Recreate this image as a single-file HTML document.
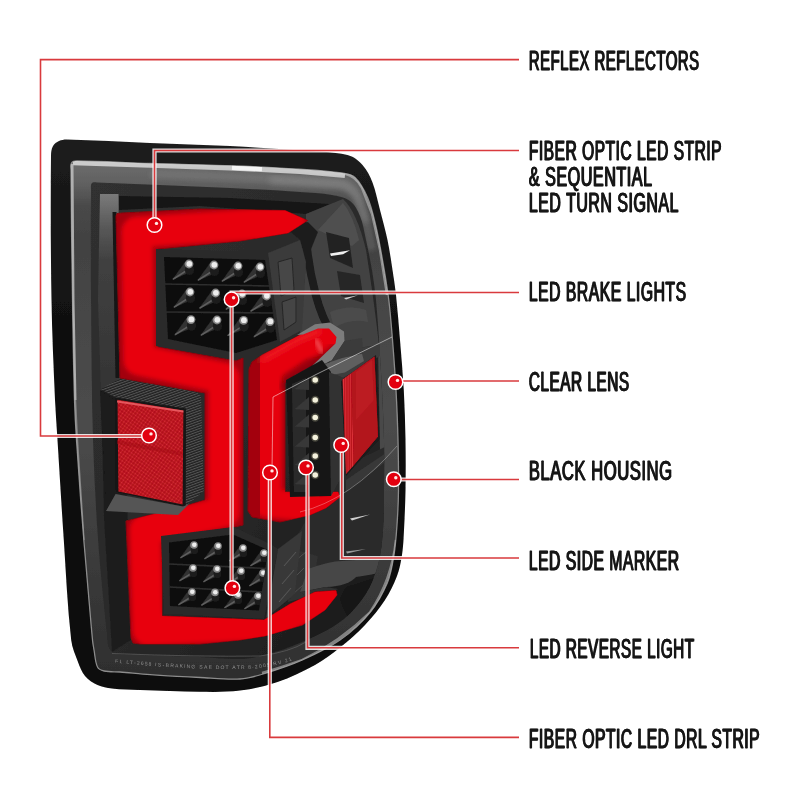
<!DOCTYPE html>
<html><head><meta charset="utf-8"><title>Tail light features</title>
<style>
html,body{margin:0;padding:0;background:#fff;}
body{width:800px;height:800px;overflow:hidden;font-family:"Liberation Sans",sans-serif;}
svg{display:block}
.lbl text{font-family:"Liberation Sans",sans-serif;font-weight:normal;font-size:27.4px;fill:#161616;stroke:#161616;stroke-width:0.3px;letter-spacing:0.9px;}
</style></head><body>
<svg width="800" height="800" viewBox="0 0 800 800">
<defs>
<filter id="soft" x="-5%" y="-5%" width="110%" height="110%"><feGaussianBlur stdDeviation="0.75"/></filter>
<filter id="b3" x="-10%" y="-10%" width="120%" height="120%"><feGaussianBlur stdDeviation="3.2"/></filter>
<filter id="b2" x="-10%" y="-10%" width="120%" height="120%"><feGaussianBlur stdDeviation="2.2"/></filter>
<filter id="tb" x="-2%" y="-20%" width="104%" height="140%"><feGaussianBlur stdDeviation="0.35"/></filter>
<filter id="b6" x="-10%" y="-10%" width="120%" height="120%"><feGaussianBlur stdDeviation="6"/></filter>
<clipPath id="cS"><path d="M116,216 L117,213.5 L122,213 L200,209 L285,210.5 L307.5,220.5 L288,233 L240,241 L158,249 L158,347 L236,361 L243,358 L243,525 L235,527 L162,537 L162,616 L264,620 L290,604 L315,592 L336,590.5 L337,595 L325,610 L302.5,625 L265,636 L240,640 L200,644 L140,644 L133,643 L131,638 L126,521 L182,507 L205,500 L205,393 L120,378 Z"/></clipPath>
<clipPath id="cR"><path d="M249,369 L252,362 L262,355 L300,335 L318,327 L330,326 L337,336 L338,350 L325,357 L285,383 L285,492 L338,492 L340,497 L326,508 L310,515 L280,522 L252,517 L248,511 Z"/></clipPath>
<clipPath id="cLow"><path d="M169,542.5 L233,534.5 L268,550 L259,610.5 L170,606 Z"/></clipPath>
<clipPath id="cLens"><path d="M71.0,170.0 C71.0,167.7 70.2,164.9 71.5,163.0 C72.6,161.4 75.0,161.0 77.0,161.0 C101.3,161.2 125.7,162.8 150.0,163.5 C176.7,164.3 203.3,164.7 230.0,165.7 C253.3,166.6 276.7,167.7 300.0,169.2 C314.0,170.1 328.1,170.9 342.0,173.0 C346.5,173.7 351.7,174.3 355.0,177.5 C360.7,182.9 364.3,190.3 367.5,197.5 C371.0,205.5 373.0,214.0 375.0,222.5 C378.0,234.9 380.3,247.4 382.5,260.0 C384.9,273.3 387.1,286.6 388.8,300.0 C390.4,313.3 391.4,326.7 392.5,340.0 C393.8,356.7 395.1,373.3 396.0,390.0 C396.9,406.7 397.6,423.3 398.0,440.0 C398.4,456.7 398.7,473.3 398.5,490.0 C398.4,501.7 397.8,513.4 397.0,525.0 C396.3,535.0 395.6,545.1 394.0,555.0 C392.5,564.3 391.1,573.8 387.5,582.5 C383.0,593.2 377.4,603.6 370.0,612.5 C361.4,623.0 351.1,632.2 340.0,640.0 C328.4,648.2 315.4,654.2 302.5,660.0 C290.4,665.4 277.7,669.6 265.0,673.5 C256.8,676.0 248.5,678.5 240.0,679.0 C226.7,679.8 213.3,678.2 200.0,677.5 C183.3,676.7 166.7,675.7 150.0,674.6 C140.0,673.9 130.0,672.8 120.0,672.0 C114.7,671.6 109.2,672.2 104.0,671.0 C101.5,670.4 98.6,669.3 97.5,667.0 C95.0,661.8 95.1,655.7 94.0,650.0 C93.4,646.7 92.8,643.4 92.5,640.0 C89.4,606.7 86.4,573.4 83.8,540.0 C81.1,506.7 78.7,473.3 76.5,440.0 C75.6,426.7 74.9,413.3 74.5,400.0 C73.5,366.7 73.0,333.3 72.5,300.0 C71.8,256.7 71.3,213.3 71.0,170.0 Z"/></clipPath>
<clipPath id="cCav"><path d="M91.0,190.0 C91.0,187.6 90.5,184.8 92.0,183.0 C93.0,181.7 95.3,182.5 97.0,182.5 C118.0,183.1 139.0,184.1 160.0,185.0 C183.3,186.0 206.7,186.8 230.0,188.0 C253.3,189.2 276.7,190.4 300.0,192.0 C310.7,192.7 321.5,193.1 332.0,195.0 C338.2,196.1 344.9,197.2 350.0,201.0 C354.8,204.6 357.7,210.4 360.0,216.0 C363.1,223.6 364.2,232.0 366.0,240.0 C368.2,250.0 370.3,259.9 372.0,270.0 C373.7,280.0 375.0,290.0 376.0,300.0 C377.3,313.3 378.1,326.7 379.0,340.0 C380.1,356.7 381.2,373.3 382.0,390.0 C382.8,406.7 383.7,423.3 384.0,440.0 C384.3,456.7 384.2,473.3 384.0,490.0 C383.9,503.3 384.1,516.7 383.0,530.0 C382.1,541.7 381.1,553.6 378.0,565.0 C375.1,575.5 371.0,585.9 365.0,595.0 C358.2,605.2 349.9,614.7 340.0,622.0 C327.9,630.9 313.8,636.9 300.0,643.0 C288.7,648.0 276.9,651.8 265.0,655.0 C256.8,657.2 248.4,658.7 240.0,659.0 C226.7,659.4 213.3,657.5 200.0,657.0 C180.0,656.2 160.0,655.7 140.0,655.0 C132.0,654.7 123.8,655.8 116.0,654.0 C113.0,653.3 110.4,650.7 109.0,648.0 C107.2,644.4 107.4,640.0 107.0,636.0 C103.7,604.0 100.3,572.1 98.0,540.0 C95.6,506.7 94.0,473.4 93.0,440.0 C91.6,393.3 91.4,346.7 91.0,300.0 C90.7,263.3 90.7,226.7 91.0,190.0 Z"/></clipPath>
<linearGradient id="hous" x1="0" y1="0" x2="0" y2="1">
 <stop offset="0" stop-color="#1c1c1c"/><stop offset="0.35" stop-color="#101010"/><stop offset="1" stop-color="#070707"/>
</linearGradient>
<linearGradient id="lwall" x1="0" y1="0" x2="0" y2="1">
 <stop offset="0" stop-color="#7a7a7a"/><stop offset="0.16" stop-color="#5a5a5a"/><stop offset="0.34" stop-color="#404040"/><stop offset="1" stop-color="#343434"/>
</linearGradient>
<linearGradient id="frost" x1="0" y1="0" x2="0" y2="1">
 <stop offset="0" stop-color="#6c6c6c"/><stop offset="0.04" stop-color="#626262"/><stop offset="0.09" stop-color="#484848"/><stop offset="0.15" stop-color="#424242"/><stop offset="0.5" stop-color="#4c4c4c"/><stop offset="0.75" stop-color="#3c3c3c"/><stop offset="1" stop-color="#2e2e2e"/>
</linearGradient>
<linearGradient id="cav" x1="0" y1="0" x2="1" y2="1">
 <stop offset="0" stop-color="#303030"/><stop offset="0.5" stop-color="#2a2a2a"/><stop offset="1" stop-color="#181818"/>
</linearGradient>
<pattern id="mesh" width="3" height="3" patternUnits="userSpaceOnUse" patternTransform="rotate(35)">
 <rect width="3" height="3" fill="#b00e17"/><circle cx="1.5" cy="1.5" r="0.95" fill="#d8303a"/>
</pattern>
<pattern id="carbon" width="2.4" height="2.4" patternUnits="userSpaceOnUse" patternTransform="rotate(-20)">
 <rect width="2.4" height="2.4" fill="#202020"/><rect width="2.4" height="1.05" fill="#555555"/>
</pattern>
<pattern id="vstripe" width="2.2" height="4" patternUnits="userSpaceOnUse">
 <rect width="2.2" height="4" fill="#b8111a"/><rect width="0.9" height="4" fill="#e0373e"/>
</pattern>
</defs>
<rect width="800" height="800" fill="#ffffff"/>

<g filter="url(#soft)">
<!-- outer housing -->
<path d="M51.0,156.0 C51.0,152.6 51.4,149.0 53.0,146.0 C54.2,143.7 56.6,142.1 59.0,141.0 C61.5,139.9 64.3,139.4 67.0,139.5 C94.7,140.1 122.3,141.9 150.0,143.0 C176.7,144.1 203.3,144.7 230.0,146.0 C253.4,147.2 276.7,148.7 300.0,150.5 C315.9,151.7 332.0,151.4 347.5,155.0 C353.4,156.4 358.5,160.6 362.5,165.0 C367.0,170.0 370.1,176.2 372.5,182.5 C375.9,191.4 377.6,200.8 380.0,210.0 C382.6,220.0 385.4,229.9 387.5,240.0 C389.6,249.9 391.0,260.0 392.5,270.0 C393.8,278.3 395.1,286.6 396.0,295.0 C397.6,310.0 398.8,325.0 400.0,340.0 C401.4,356.7 402.8,373.3 403.8,390.0 C404.7,406.7 405.2,423.3 405.5,440.0 C405.8,456.7 405.8,473.3 405.5,490.0 C405.3,503.3 404.7,516.7 404.0,530.0 C403.6,538.3 403.3,546.7 402.0,555.0 C400.9,562.1 399.5,569.3 397.0,576.0 C393.8,584.4 389.9,592.5 385.0,600.0 C379.2,608.9 372.3,617.3 365.0,625.0 C357.3,633.1 348.8,640.5 340.0,647.5 C332.1,653.9 323.9,660.1 315.0,665.0 C303.0,671.6 290.5,677.6 277.5,682.0 C265.4,686.1 252.7,688.9 240.0,690.5 C226.8,692.2 213.3,691.9 200.0,691.8 C180.0,691.7 160.0,690.7 140.0,690.0 C130.7,689.6 121.3,689.6 112.0,688.5 C107.1,687.9 102.0,687.1 97.5,685.0 C92.8,682.8 88.3,679.9 85.0,676.0 C81.6,672.0 79.9,666.9 78.0,662.0 C75.3,654.8 72.1,647.6 71.2,640.0 C67.4,606.8 66.0,573.3 63.8,540.0 C61.5,506.7 59.6,473.3 57.5,440.0 C56.7,426.7 55.6,413.3 55.0,400.0 C53.6,366.7 52.0,333.3 51.5,300.0 C50.7,252.0 50.5,204.0 51.0,156.0 Z" fill="url(#hous)"/>
<!-- lens (frosted band) -->
<path d="M71.0,170.0 C71.0,167.7 70.2,164.9 71.5,163.0 C72.6,161.4 75.0,161.0 77.0,161.0 C101.3,161.2 125.7,162.8 150.0,163.5 C176.7,164.3 203.3,164.7 230.0,165.7 C253.3,166.6 276.7,167.7 300.0,169.2 C314.0,170.1 328.1,170.9 342.0,173.0 C346.5,173.7 351.7,174.3 355.0,177.5 C360.7,182.9 364.3,190.3 367.5,197.5 C371.0,205.5 373.0,214.0 375.0,222.5 C378.0,234.9 380.3,247.4 382.5,260.0 C384.9,273.3 387.1,286.6 388.8,300.0 C390.4,313.3 391.4,326.7 392.5,340.0 C393.8,356.7 395.1,373.3 396.0,390.0 C396.9,406.7 397.6,423.3 398.0,440.0 C398.4,456.7 398.7,473.3 398.5,490.0 C398.4,501.7 397.8,513.4 397.0,525.0 C396.3,535.0 395.6,545.1 394.0,555.0 C392.5,564.3 391.1,573.8 387.5,582.5 C383.0,593.2 377.4,603.6 370.0,612.5 C361.4,623.0 351.1,632.2 340.0,640.0 C328.4,648.2 315.4,654.2 302.5,660.0 C290.4,665.4 277.7,669.6 265.0,673.5 C256.8,676.0 248.5,678.5 240.0,679.0 C226.7,679.8 213.3,678.2 200.0,677.5 C183.3,676.7 166.7,675.7 150.0,674.6 C140.0,673.9 130.0,672.8 120.0,672.0 C114.7,671.6 109.2,672.2 104.0,671.0 C101.5,670.4 98.6,669.3 97.5,667.0 C95.0,661.8 95.1,655.7 94.0,650.0 C93.4,646.7 92.8,643.4 92.5,640.0 C89.4,606.7 86.4,573.4 83.8,540.0 C81.1,506.7 78.7,473.3 76.5,440.0 C75.6,426.7 74.9,413.3 74.5,400.0 C73.5,366.7 73.0,333.3 72.5,300.0 C71.8,256.7 71.3,213.3 71.0,170.0 Z" fill="url(#frost)" stroke="#8c8c8c" stroke-width="1.3"/>
<g clip-path="url(#cLens)">
 <!-- bright highlight band along lens top -->
 <path d="M73,162.2 L150,164.8 L230,167.4 L300,171 L345,175" fill="none" stroke="#dcdcdc" stroke-width="6" opacity="0.85"/>
 <path d="M232,167.5 L262,168.8" fill="none" stroke="#ffffff" stroke-width="5" opacity="0.8"/>
 <path d="M72,164 L73,300 L75,400" fill="none" stroke="#c4c4c4" stroke-width="3" opacity="0.8"/>
 <path d="M75,400 L77,440 L83.5,540" fill="none" stroke="#aaaaaa" stroke-width="2.4" opacity="0.6"/>
 <path d="M345,173.8 Q356,176 362,188 L372,214 L380,250 L387,295" fill="none" stroke="#cfcfcf" stroke-width="2.4" opacity="0.55"/>
 <path d="M396,540 Q392,580 370,612.5 Q340,642 302.5,660 Q280,668 262,673" fill="none" stroke="#b8b8b8" stroke-width="2.6" opacity="0.6"/>
 <path d="M150,174 L230,177 L290,180 L340,184 Q352,186 358,198 L366,222 L372,250" fill="none" stroke="#8c8c8c" stroke-width="9" opacity="0.3" filter="url(#b2)"/>
 <path d="M270,180 L340,184 Q352,186 358,198 L366,222" fill="none" stroke="#959595" stroke-width="9" opacity="0.4" filter="url(#b3)"/>
 <!-- right/bottom outer band a bit darker -->
 <path d="M71.0,170.0 C71.0,167.7 70.2,164.9 71.5,163.0 C72.6,161.4 75.0,161.0 77.0,161.0 C101.3,161.2 125.7,162.8 150.0,163.5 C176.7,164.3 203.3,164.7 230.0,165.7 C253.3,166.6 276.7,167.7 300.0,169.2 C314.0,170.1 328.1,170.9 342.0,173.0 C346.5,173.7 351.7,174.3 355.0,177.5 C360.7,182.9 364.3,190.3 367.5,197.5 C371.0,205.5 373.0,214.0 375.0,222.5 C378.0,234.9 380.3,247.4 382.5,260.0 C384.9,273.3 387.1,286.6 388.8,300.0 C390.4,313.3 391.4,326.7 392.5,340.0 C393.8,356.7 395.1,373.3 396.0,390.0 C396.9,406.7 397.6,423.3 398.0,440.0 C398.4,456.7 398.7,473.3 398.5,490.0 C398.4,501.7 397.8,513.4 397.0,525.0 C396.3,535.0 395.6,545.1 394.0,555.0 C392.5,564.3 391.1,573.8 387.5,582.5 C383.0,593.2 377.4,603.6 370.0,612.5 C361.4,623.0 351.1,632.2 340.0,640.0 C328.4,648.2 315.4,654.2 302.5,660.0 C290.4,665.4 277.7,669.6 265.0,673.5 C256.8,676.0 248.5,678.5 240.0,679.0 C226.7,679.8 213.3,678.2 200.0,677.5 C183.3,676.7 166.7,675.7 150.0,674.6 C140.0,673.9 130.0,672.8 120.0,672.0 C114.7,671.6 109.2,672.2 104.0,671.0 C101.5,670.4 98.6,669.3 97.5,667.0 C95.0,661.8 95.1,655.7 94.0,650.0 C93.4,646.7 92.8,643.4 92.5,640.0 C89.4,606.7 86.4,573.4 83.8,540.0 C81.1,506.7 78.7,473.3 76.5,440.0 C75.6,426.7 74.9,413.3 74.5,400.0 C73.5,366.7 73.0,333.3 72.5,300.0 C71.8,256.7 71.3,213.3 71.0,170.0 Z" fill="none" stroke="#1b1b1b" stroke-width="5" opacity="0.0"/>
</g>
<!-- inner cavity -->
<path d="M91.0,190.0 C91.0,187.6 90.5,184.8 92.0,183.0 C93.0,181.7 95.3,182.5 97.0,182.5 C118.0,183.1 139.0,184.1 160.0,185.0 C183.3,186.0 206.7,186.8 230.0,188.0 C253.3,189.2 276.7,190.4 300.0,192.0 C310.7,192.7 321.5,193.1 332.0,195.0 C338.2,196.1 344.9,197.2 350.0,201.0 C354.8,204.6 357.7,210.4 360.0,216.0 C363.1,223.6 364.2,232.0 366.0,240.0 C368.2,250.0 370.3,259.9 372.0,270.0 C373.7,280.0 375.0,290.0 376.0,300.0 C377.3,313.3 378.1,326.7 379.0,340.0 C380.1,356.7 381.2,373.3 382.0,390.0 C382.8,406.7 383.7,423.3 384.0,440.0 C384.3,456.7 384.2,473.3 384.0,490.0 C383.9,503.3 384.1,516.7 383.0,530.0 C382.1,541.7 381.1,553.6 378.0,565.0 C375.1,575.5 371.0,585.9 365.0,595.0 C358.2,605.2 349.9,614.7 340.0,622.0 C327.9,630.9 313.8,636.9 300.0,643.0 C288.7,648.0 276.9,651.8 265.0,655.0 C256.8,657.2 248.4,658.7 240.0,659.0 C226.7,659.4 213.3,657.5 200.0,657.0 C180.0,656.2 160.0,655.7 140.0,655.0 C132.0,654.7 123.8,655.8 116.0,654.0 C113.0,653.3 110.4,650.7 109.0,648.0 C107.2,644.4 107.4,640.0 107.0,636.0 C103.7,604.0 100.3,572.1 98.0,540.0 C95.6,506.7 94.0,473.4 93.0,440.0 C91.6,393.3 91.4,346.7 91.0,300.0 C90.7,263.3 90.7,226.7 91.0,190.0 Z" fill="url(#cav)"/>
<g clip-path="url(#cCav)">
<!-- left bezel wall lighter -->
<path d="M100,194 L118.5,194 L120,380 L101,391 L98,300 Z" fill="url(#lwall)"/>
<path d="M101,391 L120,380 L128,520 L131,640 L112,652 L104,520 Z" fill="#1f1f1f"/>
<path d="M114.5,212 L117.5,378" stroke="#161616" stroke-width="4" fill="none"/>
<!-- top band above red -->
<path d="M119,196 L230,198 L330,204 L306,214 L200,206 L119,210 Z" fill="#161616"/>
<!-- right upper bezel -->
<path d="M306,214 L343,199 Q357,212 366,250 Q374,300 379,345 L330,352 L300,334 L306,262 Z" fill="#424242"/>
<path d="M318,230 L343,203 Q353,215 359,240 L352,246 Z" fill="#505050"/>
<path d="M326,232 L349,238 L353,268 L330,258 Z" fill="#242424"/>
<path d="M330,253.6 L350,250.2 L343,254.2 L331,256 Z" fill="#f0f0f0"/>
<path d="M337,271 L360,275 L364,303 L341,296 Z" fill="#262626"/>
<path d="M344,298 L358,295.3 L346,299.6 Z" fill="#d0d0d0"/>
<path d="M305,226 Q307,262 316,296 Q322,318 332,334" fill="none" stroke="#1b1b1b" stroke-width="8" stroke-linecap="round"/>
<path d="M330,312 Q350,304 366,310 L368,322 Q350,318 334,328 Z" fill="#4c4c4c"/>
<path d="M288,230 L308,222 L318,232 L306,262 L300,240 Z" fill="#1f1f1f"/>
<path d="M378,345 L392,338 L397.5,440 L380,452 Z" fill="#484848"/>
<path d="M330,352 L379,345 L380,356 L343,378 L330,372 Z" fill="#3c3c3c"/>
<!-- lower right cavity -->
<path d="M335,470 L400,440 L400,560 L310,568 L290,548 Z" fill="#2b2b2b"/>
<path d="M346,480 L398,445 L398,452 L346,492 Z" fill="#383838"/>
<path d="M350,518.5 L370,514.5 L352,520.5 Z" fill="#cfcfcf"/>
<path d="M346,551.5 L366,549 L347,553.5 Z" fill="#9a9a9a"/>
<path d="M290,548 L318,556 L312,596 L288,602 Z" fill="#303030"/>
<path d="M296,560 L306,552 M294,578 L304,568 M293,594 L303,585" stroke="#505050" stroke-width="1" fill="none"/>
<!-- ridge gray above swoosh tip -->
<path d="M308,569 Q330,561 342,561 L400,557 L399,565 Q390,572 356,577 Q348,586 326,587 L300,592 Z" fill="#474747"/>
<path d="M346,587 Q370,580 392,572 Q388,592 372,606 Q362,616 352,622 Q342,610 340,598 Z" fill="#151515"/>
<path d="M300,592 L326,587 L338,589 L312,600 Z" fill="#303030"/>
</g>

<!-- RED S strip -->
<path d="M116,216 L117,213.5 L122,213 L200,209 L285,210.5 L307.5,220.5 L288,233 L240,241 L158,249 L158,347 L236,361 L243,358 L243,525 L235,527 L162,537 L162,616 L264,620 L290,604 L315,592 L336,590.5 L337,595 L325,610 L302.5,625 L265,636 L240,640 L200,644 L140,644 L133,643 L131,638 L126,521 L182,507 L205,500 L205,393 L120,378 Z" fill="#a3060e" stroke="#8a050b" stroke-width="1" stroke-linejoin="round"/>
<g clip-path="url(#cS)">
 <path d="M116,216 L117,213.5 L122,213 L200,209 L285,210.5 L307.5,220.5 L288,233 L240,241 L158,249 L158,347 L236,361 L243,358 L243,525 L235,527 L162,537 L162,616 L264,620 L290,604 L315,592 L336,590.5 L337,595 L325,610 L302.5,625 L265,636 L240,640 L200,644 L140,644 L133,643 L131,638 L126,521 L182,507 L205,500 L205,393 L120,378 Z" fill="none" stroke="#ef0a16" stroke-width="6" stroke-linejoin="round" filter="url(#b3)" opacity="0" transform="translate(0,0)"/>
 <path d="M137,232 L290,222 M137,232 L139,360 L224,378 L224,512 L145,530 L148,630 L270,624 L325,598" fill="none" stroke="#e8050f" stroke-width="31" stroke-linejoin="round" stroke-linecap="round" filter="url(#b2)"/>
</g>
<!-- RED right bracket -->
<path d="M249,369 L252,362 L262,355 L300,335 L318,327 L330,326 L337,336 L338,350 L325,357 L285,383 L285,492 L338,492 L340,497 L326,508 L310,515 L280,522 L252,517 L248,511 Z" fill="#a3060e" stroke="#8a050b" stroke-width="1" stroke-linejoin="round"/>
<g clip-path="url(#cR)">
 <path d="M330,338 L300,346 L268,368 L267,503 L300,506 L334,496" fill="none" stroke="#e60610" stroke-width="29" stroke-linejoin="round" stroke-linecap="round" filter="url(#b2)"/>
 <path d="M285,386 L313,368 L336,348" fill="none" stroke="#7a0008" stroke-width="9" stroke-linecap="round" filter="url(#b3)" opacity="0.75"/>
 <path d="M262,360 L300,339 L320,331" fill="none" stroke="#ff5a60" stroke-width="3" stroke-linecap="round" filter="url(#b3)" opacity="0.6"/>
 <path d="M316,340 L322,352" fill="none" stroke="#ff9a9e" stroke-width="3" stroke-linecap="round" filter="url(#b2)" opacity="0.7"/>
</g>
<!-- gray cap at top of right red -->
<path d="M297,335 L315,324.3 L330,322.5 L344,331.5 L344.5,341 L332,360 L315,369 L312.5,365.5 L335.5,343.5 L336.5,337 L329,328.5 L318,328.5 L303,334.5 Z" fill="#7c7c7c"/>
<path d="M315,367.5 L343.5,357.5 L362,353.5 L364,361 L345,372.5 L321,377 Z" fill="#5e5e5e"/>
<path d="M344.5,341 L362,338 L363,353.5 L343.5,357.5 L332,360 Z" fill="#3a3a3a"/>

<!-- top LED block -->
<path d="M156,249 L268,253 L280,342 L236,360 L156,346 Z" fill="#2a2a2a"/>
<path d="M268,253 L300,240 L306,262 L302,330 L280,342 Z" fill="#3a3a3a"/>
<path d="M278,262 L292,258 L294,290 L281,296 Z" fill="#474747" stroke="#262626" stroke-width="1"/>
<path d="M282,302 L296,297 L296,322 L284,330 Z" fill="#444" stroke="#262626" stroke-width="1"/>
<path d="M164,257 L265,260 L277,340 L236,353 L168,339 Z" fill="#0e0e0e"/>
<path d="M164,284 L269,286 M166,312 L273,313" stroke="#2d2d2d" stroke-width="1.6" fill="none"/>
<path d="M185.0,262.0 L193.0,271.0 L172.0,280.0 Z" fill="#303030"/><path d="M173.0,279.2 L186.0,271.0" stroke="#6a6a6a" stroke-width="1.6" fill="none" opacity="0.8"/><ellipse cx="189.5" cy="270.0" rx="4.6" ry="5.0" fill="#1c1c1c"/><circle cx="189" cy="264" r="4.4" fill="#868686"/><circle cx="189.3" cy="263.8" r="2.9" fill="#ededed"/><path d="M210.0,263.0 L218.0,272.0 L197.0,281.0 Z" fill="#303030"/><path d="M198.0,280.2 L211.0,272.0" stroke="#6a6a6a" stroke-width="1.6" fill="none" opacity="0.8"/><ellipse cx="214.5" cy="271.0" rx="4.6" ry="5.0" fill="#1c1c1c"/><circle cx="214" cy="265" r="4.4" fill="#868686"/><circle cx="214.3" cy="264.8" r="2.9" fill="#ededed"/><path d="M234.0,264.0 L242.0,273.0 L221.0,282.0 Z" fill="#303030"/><path d="M222.0,281.2 L235.0,273.0" stroke="#6a6a6a" stroke-width="1.6" fill="none" opacity="0.8"/><ellipse cx="238.5" cy="272.0" rx="4.6" ry="5.0" fill="#1c1c1c"/><circle cx="238" cy="266" r="4.4" fill="#868686"/><circle cx="238.3" cy="265.8" r="2.9" fill="#ededed"/><path d="M256.0,265.0 L264.0,274.0 L243.0,283.0 Z" fill="#303030"/><path d="M244.0,282.2 L257.0,274.0" stroke="#6a6a6a" stroke-width="1.6" fill="none" opacity="0.8"/><ellipse cx="260.5" cy="273.0" rx="4.6" ry="5.0" fill="#1c1c1c"/><circle cx="260" cy="267" r="4.4" fill="#868686"/><circle cx="260.3" cy="266.8" r="2.9" fill="#ededed"/><path d="M186.0,290.0 L194.0,299.0 L173.0,308.0 Z" fill="#303030"/><path d="M174.0,307.2 L187.0,299.0" stroke="#6a6a6a" stroke-width="1.6" fill="none" opacity="0.8"/><ellipse cx="190.5" cy="298.0" rx="4.6" ry="5.0" fill="#1c1c1c"/><circle cx="190" cy="292" r="4.4" fill="#868686"/><circle cx="190.3" cy="291.8" r="2.9" fill="#ededed"/><path d="M211.6,291.0 L219.6,300.0 L198.6,309.0 Z" fill="#303030"/><path d="M199.6,308.2 L212.6,300.0" stroke="#6a6a6a" stroke-width="1.6" fill="none" opacity="0.8"/><ellipse cx="216.1" cy="299.0" rx="4.6" ry="5.0" fill="#1c1c1c"/><circle cx="215.6" cy="293" r="4.4" fill="#868686"/><circle cx="215.9" cy="292.8" r="2.9" fill="#ededed"/><path d="M238.0,292.0 L246.0,301.0 L225.0,310.0 Z" fill="#303030"/><path d="M226.0,309.2 L239.0,301.0" stroke="#6a6a6a" stroke-width="1.6" fill="none" opacity="0.8"/><ellipse cx="242.5" cy="300.0" rx="4.6" ry="5.0" fill="#1c1c1c"/><circle cx="242" cy="294" r="4.4" fill="#868686"/><circle cx="242.3" cy="293.8" r="2.9" fill="#ededed"/><path d="M262.6,294.0 L270.6,303.0 L249.6,312.0 Z" fill="#303030"/><path d="M250.6,311.2 L263.6,303.0" stroke="#6a6a6a" stroke-width="1.6" fill="none" opacity="0.8"/><ellipse cx="267.1" cy="302.0" rx="4.6" ry="5.0" fill="#1c1c1c"/><circle cx="266.6" cy="296" r="4.4" fill="#868686"/><circle cx="266.9" cy="295.8" r="2.9" fill="#ededed"/><path d="M187.0,317.6 L195.0,326.6 L174.0,335.6 Z" fill="#303030"/><path d="M175.0,334.8 L188.0,326.6" stroke="#6a6a6a" stroke-width="1.6" fill="none" opacity="0.8"/><ellipse cx="191.5" cy="325.6" rx="4.6" ry="5.0" fill="#1c1c1c"/><circle cx="191" cy="319.6" r="4.4" fill="#868686"/><circle cx="191.3" cy="319.4" r="2.9" fill="#ededed"/><path d="M213.0,318.0 L221.0,327.0 L200.0,336.0 Z" fill="#303030"/><path d="M201.0,335.2 L214.0,327.0" stroke="#6a6a6a" stroke-width="1.6" fill="none" opacity="0.8"/><ellipse cx="217.5" cy="326.0" rx="4.6" ry="5.0" fill="#1c1c1c"/><circle cx="217" cy="320" r="4.4" fill="#868686"/><circle cx="217.3" cy="319.8" r="2.9" fill="#ededed"/><path d="M239.6,318.4 L247.6,327.4 L226.6,336.4 Z" fill="#303030"/><path d="M227.6,335.6 L240.6,327.4" stroke="#6a6a6a" stroke-width="1.6" fill="none" opacity="0.8"/><ellipse cx="244.1" cy="326.4" rx="4.6" ry="5.0" fill="#1c1c1c"/><circle cx="243.6" cy="320.4" r="4.4" fill="#868686"/><circle cx="243.9" cy="320.2" r="2.9" fill="#ededed"/><path d="M266.0,319.6 L274.0,328.6 L253.0,337.6 Z" fill="#303030"/><path d="M254.0,336.8 L267.0,328.6" stroke="#6a6a6a" stroke-width="1.6" fill="none" opacity="0.8"/><ellipse cx="270.5" cy="327.6" rx="4.6" ry="5.0" fill="#1c1c1c"/><circle cx="270" cy="321.6" r="4.4" fill="#868686"/><circle cx="270.3" cy="321.4" r="2.9" fill="#ededed"/>

<!-- lower LED block -->
<path d="M161,536 L234,527 L272,545 L278,549 L264,619 L164,614 Z" fill="#2a2a2a"/>
<path d="M278,549 L302,531 L295,594 L266,618 Z" fill="#373737"/>
<path d="M284,566 L296,552 M282,584 L294,570 M279,602 L291,588" stroke="#555" stroke-width="1.1" fill="none"/>
<path d="M169,542.5 L233,534.5 L268,550 L259,610.5 L170,606 Z" fill="#0e0e0e"/>
<path d="M169,564 L266,568.5 M169.5,587 L262,592" stroke="#2f2f2f" stroke-width="1.6" fill="none"/>
<g clip-path="url(#cLow)"><path d="M190.6,543.3 L197.4,551.0 L179.6,558.6 Z" fill="#303030"/><path d="M180.4,557.9 L191.4,551.0" stroke="#6a6a6a" stroke-width="1.6" fill="none" opacity="0.8"/><ellipse cx="194.5" cy="550.1" rx="3.9" ry="4.2" fill="#1c1c1c"/><circle cx="194" cy="545" r="3.8" fill="#868686"/><circle cx="194.3" cy="544.8" r="2.3" fill="#ededed"/><path d="M214.6,544.3 L221.4,552.0 L203.6,559.6 Z" fill="#303030"/><path d="M204.4,558.9 L215.4,552.0" stroke="#6a6a6a" stroke-width="1.6" fill="none" opacity="0.8"/><ellipse cx="218.5" cy="551.1" rx="3.9" ry="4.2" fill="#1c1c1c"/><circle cx="218" cy="546" r="3.8" fill="#868686"/><circle cx="218.3" cy="545.8" r="2.3" fill="#ededed"/><path d="M239.6,546.3 L246.4,554.0 L228.6,561.6 Z" fill="#303030"/><path d="M229.4,560.9 L240.4,554.0" stroke="#6a6a6a" stroke-width="1.6" fill="none" opacity="0.8"/><ellipse cx="243.5" cy="553.1" rx="3.9" ry="4.2" fill="#1c1c1c"/><circle cx="243" cy="548" r="3.8" fill="#868686"/><circle cx="243.3" cy="547.8" r="2.3" fill="#ededed"/><path d="M260.6,551.3 L267.4,559.0 L249.6,566.6 Z" fill="#303030"/><path d="M250.4,565.9 L261.4,559.0" stroke="#6a6a6a" stroke-width="1.6" fill="none" opacity="0.8"/><ellipse cx="264.5" cy="558.1" rx="3.9" ry="4.2" fill="#1c1c1c"/><circle cx="264" cy="553" r="3.8" fill="#868686"/><circle cx="264.3" cy="552.8" r="2.3" fill="#ededed"/><path d="M189.6,566.3 L196.4,574.0 L178.6,581.6 Z" fill="#303030"/><path d="M179.4,580.9 L190.4,574.0" stroke="#6a6a6a" stroke-width="1.6" fill="none" opacity="0.8"/><ellipse cx="193.5" cy="573.1" rx="3.9" ry="4.2" fill="#1c1c1c"/><circle cx="193" cy="568" r="3.8" fill="#868686"/><circle cx="193.3" cy="567.8" r="2.3" fill="#ededed"/><path d="M213.6,567.3 L220.4,575.0 L202.6,582.6 Z" fill="#303030"/><path d="M203.4,581.9 L214.4,575.0" stroke="#6a6a6a" stroke-width="1.6" fill="none" opacity="0.8"/><ellipse cx="217.5" cy="574.1" rx="3.9" ry="4.2" fill="#1c1c1c"/><circle cx="217" cy="569" r="3.8" fill="#868686"/><circle cx="217.3" cy="568.8" r="2.3" fill="#ededed"/><path d="M237.6,569.3 L244.4,577.0 L226.6,584.6 Z" fill="#303030"/><path d="M227.4,583.9 L238.4,577.0" stroke="#6a6a6a" stroke-width="1.6" fill="none" opacity="0.8"/><ellipse cx="241.5" cy="576.1" rx="3.9" ry="4.2" fill="#1c1c1c"/><circle cx="241" cy="571" r="3.8" fill="#868686"/><circle cx="241.3" cy="570.8" r="2.3" fill="#ededed"/><path d="M259.6,571.3 L266.4,579.0 L248.6,586.6 Z" fill="#303030"/><path d="M249.4,585.9 L260.4,579.0" stroke="#6a6a6a" stroke-width="1.6" fill="none" opacity="0.8"/><ellipse cx="263.5" cy="578.1" rx="3.9" ry="4.2" fill="#1c1c1c"/><circle cx="263" cy="573" r="3.8" fill="#868686"/><circle cx="263.3" cy="572.8" r="2.3" fill="#ededed"/><path d="M188.6,590.3 L195.4,598.0 L177.6,605.6 Z" fill="#303030"/><path d="M178.4,604.9 L189.4,598.0" stroke="#6a6a6a" stroke-width="1.6" fill="none" opacity="0.8"/><ellipse cx="192.5" cy="597.1" rx="3.9" ry="4.2" fill="#1c1c1c"/><circle cx="192" cy="592" r="3.8" fill="#868686"/><circle cx="192.3" cy="591.8" r="2.3" fill="#ededed"/><path d="M211.6,590.7 L218.4,598.4 L200.6,606.0 Z" fill="#303030"/><path d="M201.4,605.3 L212.4,598.4" stroke="#6a6a6a" stroke-width="1.6" fill="none" opacity="0.8"/><ellipse cx="215.5" cy="597.5" rx="3.9" ry="4.2" fill="#1c1c1c"/><circle cx="215" cy="592.4" r="3.8" fill="#868686"/><circle cx="215.3" cy="592.2" r="2.3" fill="#ededed"/><path d="M234.6,593.3 L241.4,601.0 L223.6,608.6 Z" fill="#303030"/><path d="M224.4,607.9 L235.4,601.0" stroke="#6a6a6a" stroke-width="1.6" fill="none" opacity="0.8"/><ellipse cx="238.5" cy="600.1" rx="3.9" ry="4.2" fill="#1c1c1c"/><circle cx="238" cy="595" r="3.8" fill="#868686"/><circle cx="238.3" cy="594.8" r="2.3" fill="#ededed"/><path d="M254.6,594.3 L261.4,602.0 L243.6,609.6 Z" fill="#303030"/><path d="M244.4,608.9 L255.4,602.0" stroke="#6a6a6a" stroke-width="1.6" fill="none" opacity="0.8"/><ellipse cx="258.5" cy="601.1" rx="3.9" ry="4.2" fill="#1c1c1c"/><circle cx="258" cy="596" r="3.8" fill="#868686"/><circle cx="258.3" cy="595.8" r="2.3" fill="#ededed"/></g>

<!-- reflector box -->
<path d="M100.6,389 L119.4,378.8 L196.3,392 L201,396 L186,409 L115.6,397.6 Z" fill="url(#carbon)"/>
<path d="M100,390 L116,400 L117,488 L106,512 Z" fill="#1a1a1a"/>
<path d="M185,409 L201,396 L203.8,491 L186,506 Z" fill="url(#carbon)"/>
<path d="M115,397.6 L186,408.5 L185.5,507 L116,492 Z" fill="#141414"/>
<path d="M117.5,399.8 L183.4,410.6 L182.6,504.4 L118.4,491.6 Z" fill="url(#mesh)"/>
<path d="M117,400.4 L183.5,410.6 L183.5,412.6 L117,402.4 Z" fill="#f0666b" opacity="0.8"/>
<path d="M117,440 L183,452 L183,456 L117,444 Z" fill="#a50d15" opacity="0.55"/>
<path d="M106,511 L115.6,494 L183,506.5 L189,504 L178,515 Z" fill="#555"/>

<!-- reverse light column -->
<path d="M286,380 L322,360 L331,372 L331,496 L290,497 Z" fill="#181818"/>
<path d="M292,384 L306,378 L306,492 L294,492 Z" fill="#2c2c2c"/>
<path d="M329,372 L343,378 L345,470 L331,496 Z" fill="#333"/>
<path d="M295,389 L309,377 L309,390 Z" fill="#383838"/><circle cx="315.2" cy="380" r="4.2" fill="#45443a"/><circle cx="315.2" cy="380" r="2.8" fill="#f4f1dc"/>
<path d="M295,409 L309,397 L309,410 Z" fill="#383838"/><circle cx="315.2" cy="400" r="4.2" fill="#45443a"/><circle cx="315.2" cy="400" r="2.8" fill="#f4f1dc"/>
<path d="M295,426.5 L309,414.5 L309,427.5 Z" fill="#383838"/><circle cx="315.2" cy="417.5" r="4.2" fill="#45443a"/><circle cx="315.2" cy="417.5" r="2.8" fill="#f4f1dc"/>
<path d="M295,446.5 L309,434.5 L309,447.5 Z" fill="#383838"/><circle cx="315.2" cy="437.5" r="4.2" fill="#45443a"/><circle cx="315.2" cy="437.5" r="2.8" fill="#f4f1dc"/>
<path d="M295,465 L309,453 L309,466 Z" fill="#383838"/><circle cx="315.2" cy="456" r="4.2" fill="#45443a"/><circle cx="315.2" cy="456" r="2.8" fill="#f4f1dc"/>
<path d="M295,484 L309,472 L309,485 Z" fill="#383838"/><circle cx="315.2" cy="475" r="4.2" fill="#45443a"/><circle cx="315.2" cy="475" r="2.8" fill="#f4f1dc"/>

<!-- side reflector -->
<path d="M341,381 L376,355 L379.5,439 L346,476 Z" fill="#1a1a1a"/>
<path d="M342.6,379.5 L374.5,356.5 L378,436.5 L346,474 Z" fill="#a80f18"/>
<path d="M342.6,379.5 L351,373.5 L354,465 L346,474 Z" fill="url(#vstripe)"/>
<path d="M351,373.5 L374.5,356.5 L378,436.5 L354,465 Z" fill="#b3121b"/>
<path d="M356,372 L372,360 L374,400 L356,420 Z" fill="#d8323a" opacity="0.25"/>

<!-- lens edge faint lines -->
<path d="M392,337 L315,375 L273,397 L272,470" fill="none" stroke="#ffffff" stroke-width="1" opacity="0.5"/>
<path d="M300,512 Q350,500 397,446" fill="none" stroke="#ffffff" stroke-width="1" opacity="0.3"/>
<!-- bottom inscription -->
<path id="insc" d="M115,662.5 Q200,671 254,668.5 Q278,666 294,659.5" fill="none"/>
<text font-family="Liberation Sans, sans-serif" font-size="5" fill="#909090" letter-spacing="0.25"><textPath href="#insc" textLength="182">FL LT-2658  IS-BRAKING SAE DOT ATR 8-2005 RV 217</textPath></text>
<path d="M112,653.5 Q200,657 260,656 Q290,652 306,642" fill="none" stroke="#5a5a5a" stroke-width="1" opacity="0.8"/>
</g>

<!-- callouts -->
<g>
<path d="M519,59.6 L40.5,59.6 L40.5,436 L142,436" fill="none" stroke="#ffffff" stroke-opacity="0.85" stroke-width="4.2" stroke-linejoin="miter"/><path d="M519,59.6 L40.5,59.6 L40.5,436 L142,436" fill="none" stroke="#d93a3d" stroke-width="1.6" stroke-linejoin="miter"/>
<path d="M519,150.5 L154.5,150.5 L154.5,218" fill="none" stroke="#ffffff" stroke-opacity="0.85" stroke-width="4.2" stroke-linejoin="miter"/><path d="M519,150.5 L154.5,150.5 L154.5,218" fill="none" stroke="#d93a3d" stroke-width="1.6" stroke-linejoin="miter"/>
<path d="M519,292.5 L231.6,292.5 L231.6,581" fill="none" stroke="#ffffff" stroke-opacity="0.85" stroke-width="4.2" stroke-linejoin="miter"/><path d="M519,292.5 L231.6,292.5 L231.6,581" fill="none" stroke="#d93a3d" stroke-width="1.6" stroke-linejoin="miter"/>
<path d="M403,381 L519,381" fill="none" stroke="#ffffff" stroke-opacity="0.85" stroke-width="4.2" stroke-linejoin="miter"/><path d="M403,381 L519,381" fill="none" stroke="#d93a3d" stroke-width="1.6" stroke-linejoin="miter"/>
<path d="M401,479.5 L519,479.5" fill="none" stroke="#ffffff" stroke-opacity="0.85" stroke-width="4.2" stroke-linejoin="miter"/><path d="M401,479.5 L519,479.5" fill="none" stroke="#d93a3d" stroke-width="1.6" stroke-linejoin="miter"/>
<path d="M341.8,452 L341.8,558 L519,558" fill="none" stroke="#ffffff" stroke-opacity="0.85" stroke-width="4.2" stroke-linejoin="miter"/><path d="M341.8,452 L341.8,558 L519,558" fill="none" stroke="#d93a3d" stroke-width="1.6" stroke-linejoin="miter"/>
<path d="M307.5,474 L307.5,647.8 L519,647.8" fill="none" stroke="#ffffff" stroke-opacity="0.85" stroke-width="4.2" stroke-linejoin="miter"/><path d="M307.5,474 L307.5,647.8 L519,647.8" fill="none" stroke="#d93a3d" stroke-width="1.6" stroke-linejoin="miter"/>
<path d="M269.8,479 L269.8,737.4 L519,737.4" fill="none" stroke="#ffffff" stroke-opacity="0.85" stroke-width="4.2" stroke-linejoin="miter"/><path d="M269.8,479 L269.8,737.4 L519,737.4" fill="none" stroke="#d93a3d" stroke-width="1.6" stroke-linejoin="miter"/>
<circle cx="149" cy="435.5" r="7.3" fill="#e3000f" stroke="#fff" stroke-width="1.5"/><circle cx="151" cy="433.9" r="1.7" fill="#ffe9e6"/>
<circle cx="154.5" cy="225" r="7.3" fill="#e3000f" stroke="#fff" stroke-width="1.5"/><circle cx="156.5" cy="223.4" r="1.7" fill="#ffe9e6"/>
<circle cx="231.6" cy="299.4" r="7.3" fill="#e3000f" stroke="#fff" stroke-width="1.5"/><circle cx="233.6" cy="297.79999999999995" r="1.7" fill="#ffe9e6"/>
<circle cx="232.4" cy="588" r="7.3" fill="#e3000f" stroke="#fff" stroke-width="1.5"/><circle cx="234.4" cy="586.4" r="1.7" fill="#ffe9e6"/>
<circle cx="395.5" cy="382" r="7.3" fill="#e3000f" stroke="#fff" stroke-width="1.5"/><circle cx="397.5" cy="380.4" r="1.7" fill="#ffe9e6"/>
<circle cx="393.8" cy="479.3" r="7.3" fill="#e3000f" stroke="#fff" stroke-width="1.5"/><circle cx="395.8" cy="477.7" r="1.7" fill="#ffe9e6"/>
<circle cx="341.2" cy="445" r="7.3" fill="#e3000f" stroke="#fff" stroke-width="1.5"/><circle cx="343.2" cy="443.4" r="1.7" fill="#ffe9e6"/>
<circle cx="306" cy="467.5" r="7.3" fill="#e3000f" stroke="#fff" stroke-width="1.5"/><circle cx="308" cy="465.9" r="1.7" fill="#ffe9e6"/>
<circle cx="270" cy="472.5" r="7.3" fill="#e3000f" stroke="#fff" stroke-width="1.5"/><circle cx="272" cy="470.9" r="1.7" fill="#ffe9e6"/>
</g>

<g class="lbl" filter="url(#tb)">
<text x="528.40" y="69.8" textLength="170.76" lengthAdjust="spacingAndGlyphs">REFLEX REFLECTORS</text>
<text x="528.82" y="69.8" textLength="170.76" lengthAdjust="spacingAndGlyphs">REFLEX REFLECTORS</text>
<text x="529.24" y="69.8" textLength="170.76" lengthAdjust="spacingAndGlyphs">REFLEX REFLECTORS</text>
<text x="528.40" y="159.8" textLength="193.26" lengthAdjust="spacingAndGlyphs">FIBER OPTIC LED STRIP</text>
<text x="528.82" y="159.8" textLength="193.26" lengthAdjust="spacingAndGlyphs">FIBER OPTIC LED STRIP</text>
<text x="529.24" y="159.8" textLength="193.26" lengthAdjust="spacingAndGlyphs">FIBER OPTIC LED STRIP</text>
<text x="528.40" y="186.10000000000002" textLength="123.76" lengthAdjust="spacingAndGlyphs">&amp; SEQUENTIAL</text>
<text x="528.82" y="186.10000000000002" textLength="123.76" lengthAdjust="spacingAndGlyphs">&amp; SEQUENTIAL</text>
<text x="529.24" y="186.10000000000002" textLength="123.76" lengthAdjust="spacingAndGlyphs">&amp; SEQUENTIAL</text>
<text x="528.40" y="212.3" textLength="150.16" lengthAdjust="spacingAndGlyphs">LED TURN SIGNAL</text>
<text x="528.82" y="212.3" textLength="150.16" lengthAdjust="spacingAndGlyphs">LED TURN SIGNAL</text>
<text x="529.24" y="212.3" textLength="150.16" lengthAdjust="spacingAndGlyphs">LED TURN SIGNAL</text>
<text x="528.40" y="301.1" textLength="157.76" lengthAdjust="spacingAndGlyphs">LED BRAKE LIGHTS</text>
<text x="528.82" y="301.1" textLength="157.76" lengthAdjust="spacingAndGlyphs">LED BRAKE LIGHTS</text>
<text x="529.24" y="301.1" textLength="157.76" lengthAdjust="spacingAndGlyphs">LED BRAKE LIGHTS</text>
<text x="528.40" y="390.90000000000003" textLength="100.76" lengthAdjust="spacingAndGlyphs">CLEAR LENS</text>
<text x="528.82" y="390.90000000000003" textLength="100.76" lengthAdjust="spacingAndGlyphs">CLEAR LENS</text>
<text x="529.24" y="390.90000000000003" textLength="100.76" lengthAdjust="spacingAndGlyphs">CLEAR LENS</text>
<text x="528.40" y="479.90000000000003" textLength="143.76" lengthAdjust="spacingAndGlyphs">BLACK HOUSING</text>
<text x="528.82" y="479.90000000000003" textLength="143.76" lengthAdjust="spacingAndGlyphs">BLACK HOUSING</text>
<text x="529.24" y="479.90000000000003" textLength="143.76" lengthAdjust="spacingAndGlyphs">BLACK HOUSING</text>
<text x="528.40" y="569.5" textLength="150.76" lengthAdjust="spacingAndGlyphs">LED SIDE MARKER</text>
<text x="528.82" y="569.5" textLength="150.76" lengthAdjust="spacingAndGlyphs">LED SIDE MARKER</text>
<text x="529.24" y="569.5" textLength="150.76" lengthAdjust="spacingAndGlyphs">LED SIDE MARKER</text>
<text x="529.40" y="657.9" textLength="164.76" lengthAdjust="spacingAndGlyphs">LED REVERSE LIGHT</text>
<text x="529.82" y="657.9" textLength="164.76" lengthAdjust="spacingAndGlyphs">LED REVERSE LIGHT</text>
<text x="530.24" y="657.9" textLength="164.76" lengthAdjust="spacingAndGlyphs">LED REVERSE LIGHT</text>
<text x="528.40" y="747.6999999999999" textLength="231.26" lengthAdjust="spacingAndGlyphs">FIBER OPTIC LED DRL STRIP</text>
<text x="528.82" y="747.6999999999999" textLength="231.26" lengthAdjust="spacingAndGlyphs">FIBER OPTIC LED DRL STRIP</text>
<text x="529.24" y="747.6999999999999" textLength="231.26" lengthAdjust="spacingAndGlyphs">FIBER OPTIC LED DRL STRIP</text>

</g>
</svg>
</body></html>
